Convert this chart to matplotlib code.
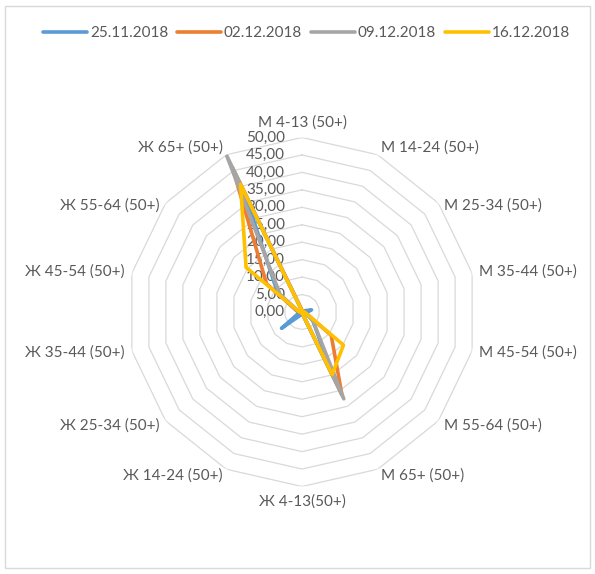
import numpy as np
import matplotlib
matplotlib.use("Agg")
import matplotlib.pyplot as plt
import matplotlib.transforms as mtransforms
from matplotlib.patches import Rectangle

plt.rcParams['font.family'] = ['Lato', 'DejaVu Sans']

categories = ['М 4-13 (50+)', 'М 14-24 (50+)', 'М 25-34 (50+)', 'М 35-44 (50+)',
              'М 45-54 (50+)', 'М 55-64 (50+)', 'М 65+ (50+)', 'Ж 4-13(50+)',
              'Ж 14-24 (50+)', 'Ж 25-34 (50+)', 'Ж 35-44 (50+)', 'Ж 45-54 (50+)',
              'Ж 55-64 (50+)', 'Ж 65+ (50+)']

weeks = ['25.11.2018', '02.12.2018', '09.12.2018', '16.12.2018']
colors = ['#5B9BD5', '#ED7D31', '#A5A5A5', '#FFC000']

vals_2511 = [0.4, 0.3, 0.5, 2.8, 1.2, 4.0, 20.0, 0.3, 1.0, 7.5, 0.8, 1.5, 9.0, 38.0]
vals_0212 = [0.5, 0.3, 0.4, 0.6, 1.0, 10.7, 26.4, 0.2, 0.3, 0.4, 0.5, 1.5, 13.0, 46.0]
vals_0912 = [0.3, 0.2, 0.3, 0.5, 1.0, 4.0, 27.6, 0.2, 0.2, 0.3, 0.4, 1.0, 8.0, 49.8]
vals_1612 = [0.3, 0.2, 0.3, 0.5, 1.0, 15.2, 19.9, 0.2, 0.2, 0.3, 0.4, 1.0, 20.5, 40.6]

ticks = [0, 5, 10, 15, 20, 25, 30, 35, 40, 45, 50]
rmax = 50

W, H = 595, 574
fig = plt.figure(figsize=(W / 100, H / 100), dpi=100)

# radar centred at (302, 312) px, outer ring 174.5 px
cx, cy, rad = 302, 312, 174.5
ax = fig.add_axes([(cx - rad) / W, (H - cy - rad) / H, 2 * rad / W, 2 * rad / H],
                  projection='polar')
ax.set_theta_zero_location('N')
ax.set_theta_direction(-1)
ax.set_ylim(0, rmax)
ax.grid(False)
ax.spines['polar'].set_visible(False)
ax.set_xticks([])
ax.set_yticks([])
ax.patch.set_alpha(0)

n = len(categories)
theta = np.arange(n) * 2 * np.pi / n
theta_c = np.append(theta, theta[0])

# polygon gridlines
for t in ticks[1:]:
    ax.plot(theta_c, [t] * (n + 1), color='#d9d9d9', lw=0.9, zorder=1)

series = [vals_2511, vals_0212, vals_0912, vals_1612]
for name, vals, c in zip(weeks, series, colors):
    ax.plot(theta_c, vals + vals[:1], color=c, lw=2.6, label=name,
            solid_joinstyle='round', solid_capstyle='round', zorder=3)

txt = '#595959'
fs = 11

# value axis labels to the left of the top spoke
lab_tr = mtransforms.offset_copy(ax.transData, fig=fig, x=-17, y=0, units='dots')
for t in ticks:
    ax.text(0, t, f'{t:.2f}'.replace('.', ','), transform=lab_tr, ha='right',
            va='center', color=txt, fontsize=fs, zorder=2)

# category labels
rl = rmax * 182 / rad
for th, name in zip(theta, categories):
    s, c = np.sin(th), np.cos(th)
    if abs(s) < 0.1:
        ha = 'center'
        va = 'bottom' if c > 0 else 'top'
    else:
        ha = 'left' if s > 0 else 'right'
        va = 'top' if 0.3 < c < 0.8 else 'center'
    ax.text(th, rl, name, ha=ha, va=va, color=txt, fontsize=fs, clip_on=False)

fig.legend(loc='center', bbox_to_anchor=(0.515, 1 - 33 / H), ncol=4, frameon=False,
           fontsize=fs, labelcolor=txt, handlelength=2.9, handletextpad=0.2,
           columnspacing=0.55)

fig.patches.append(Rectangle((5 / W, 6 / H), (W - 10) / W, (H - 12) / H,
                             transform=fig.transFigure, fill=False,
                             edgecolor='#d9d9d9', lw=1))

fig.savefig('out.png', dpi=100)
